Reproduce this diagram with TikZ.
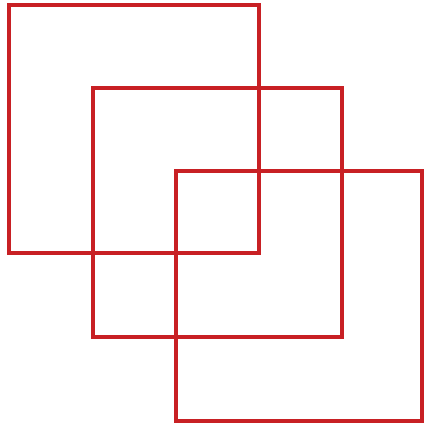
\documentclass[tikz,border=0pt]{standalone}
\usepackage{tikz}
\usetikzlibrary{positioning}
\usepackage{xcolor}
\definecolor{sqred}{RGB}{200,32,36}

\begin{document}
\begin{tikzpicture}[x=0.01cm, y=-0.01cm]
    % Canvas
    \useasboundingbox (0,0) rectangle (425,427);

    % Back square
    \draw[line width=0.9pt, sqred] (9,5) rectangle (259,253);

    % Middle square
    \draw[line width=0.9pt, sqred] (93,88) rectangle (342,337);

    % Front square
    \draw[line width=0.9pt, sqred] (176,171) rectangle (422,421);
\end{tikzpicture}
\end{document}
